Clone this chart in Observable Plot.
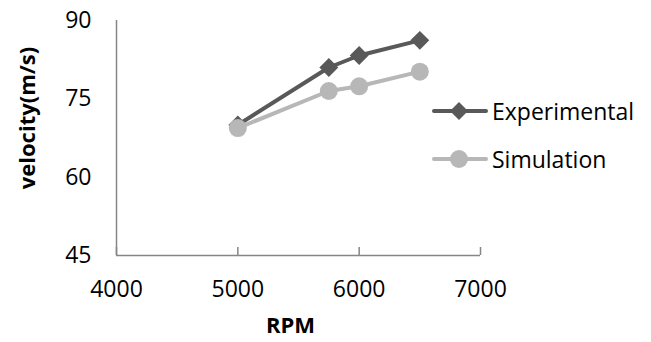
<!DOCTYPE html>
<html>
<head>
<meta charset="utf-8">
<script src="https://cdn.jsdelivr.net/npm/d3@7"></script>
<script src="https://cdn.jsdelivr.net/npm/@observablehq/plot@0.6"></script>
<style>
  html, body { margin: 0; padding: 0; background: #fff; }
  #wrap { position: relative; width: 651px; height: 342px; font-family: "Open Sans", sans-serif; }
  #legend { position: absolute; left: 432px; top: 87px; }
  .item { display: flex; align-items: center; height: 48px; font-size: 23px; color: #000; }
  .item svg { margin-right: 4px; }
</style>
</head>
<body>
<div id="wrap"><div id="chart"></div><div id="legend"></div></div>
<script>
const rpm = [5000, 5750, 6000, 6500];
const experimental = [70, 81, 83.3, 86.2];
const simulation = [69.4, 76.5, 77.4, 80.2];
const xTicks = [4000, 5000, 6000, 7000];
const yTicks = [45, 60, 75, 90];
const seriesNames = ["Experimental", "Simulation"];
const seriesColors = ["#595959", "#b7b7b7"];

const data = [];
rpm.forEach((r, i) => {
  data.push({rpm: r, v: experimental[i], s: seriesNames[0]});
  data.push({rpm: r, v: simulation[i], s: seriesNames[1]});
});
const exp = data.filter(d => d.s === seriesNames[0]);
const sim = data.filter(d => d.s === seriesNames[1]);
const axisColor = "#868686";

const chart = Plot.plot({
  width: 651,
  height: 342,
  marginLeft: 116,
  marginRight: 171,
  marginTop: 20,
  marginBottom: 87,
  style: {fontFamily: "Open Sans, sans-serif", fontSize: "23px", color: "#000", background: "#fff"},
  x: {domain: [4000, 7000]},
  y: {domain: [45, 90]},
  marks: [
    Plot.axisY({ticks: yTicks, tickSize: 0, tickPadding: 25, label: null, fontSize: 23}),
    Plot.axisX({ticks: xTicks, tickFormat: "d", tickSize: -8, tickPadding: 33, label: null, stroke: axisColor, strokeWidth: 1.5, fontSize: 23}),
    Plot.ruleX([4000], {stroke: axisColor, strokeWidth: 1.5}),
    Plot.ruleY([45], {stroke: axisColor, strokeWidth: 1.5}),
    Plot.line(exp, {x: "rpm", y: "v", stroke: seriesColors[0], strokeWidth: 4}),
    Plot.dot(exp, {x: "rpm", y: "v", fill: seriesColors[0], symbol: "diamond2", r: 8.5}),
    Plot.line(sim, {x: "rpm", y: "v", stroke: seriesColors[1], strokeWidth: 4}),
    Plot.dot(sim, {x: "rpm", y: "v", fill: seriesColors[1], symbol: "circle", r: 9}),
    Plot.text(["velocity(m/s)"], {frameAnchor: "left", textAnchor: "middle", rotate: -90, dx: -89, dy: -20, fontWeight: "bold", fontSize: 22}),
    Plot.text(["RPM"], {frameAnchor: "bottom", dx: -8, dy: 77, fontWeight: "bold", fontSize: 22})
  ]
});
document.getElementById("chart").appendChild(chart);

const legend = document.getElementById("legend");
seriesNames.forEach((name, i) => {
  const item = document.createElement("div");
  item.className = "item";
  const sym = i === 0
    ? `<polygon points="27,2 36,11 27,20 18,11" fill="${seriesColors[i]}"/>`
    : `<circle cx="27" cy="11" r="9" fill="${seriesColors[i]}"/>`;
  item.innerHTML = `<svg width="56" height="22"><line x1="2" y1="11" x2="54" y2="11" stroke="${seriesColors[i]}" stroke-width="4" stroke-linecap="round"/>${sym}</svg><span>${name}</span>`;
  legend.appendChild(item);
});
</script>
</body>
</html>
